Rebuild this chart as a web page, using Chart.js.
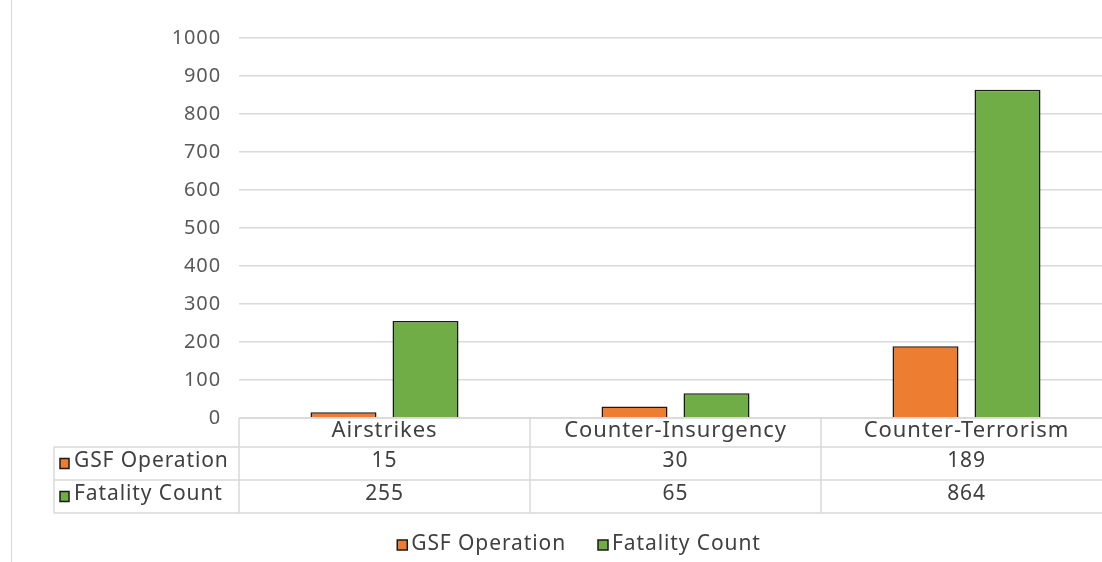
<!DOCTYPE html>
<html>
<head>
<meta charset="utf-8">
<script src="https://cdn.jsdelivr.net/npm/chart.js@4.4.1/dist/chart.umd.min.js"></script>
<style>
  html, body { margin: 0; padding: 0; background: #fff; overflow: hidden; width: 1102px; height: 562px; }
  #wrap { position: relative; width: 1102px; height: 562px; overflow: hidden; }
  #frame { position: absolute; left: 11px; top: 0; width: 0; height: 562px; border-left: 1px solid #d6d6d6; }
  canvas { position: absolute; left: 0; top: 0; }
</style>
</head>
<body>
<div id="wrap">
  <canvas id="c" width="1112" height="562"></canvas>
  <div id="frame"></div>
</div>
<script>
const categories = ["Airstrikes", "Counter-Insurgency", "Counter-Terrorism"];
const seriesNames = ["GSF Operation", "Fatality Count"];
const gsfOperation = [15, 30, 189];
const fatalityCount = [255, 65, 864];
const yTicks = [0, 100, 200, 300, 400, 500, 600, 700, 800, 900, 1000];

const COLORS = ["#ED7D31", "#70AD47"];
const FONT = "'Noto Sans', sans-serif";
const TEXT = "#404040";
const GRID = "#d9d9d9";

const spacingPlugin = {
  id: 'spacing',
  beforeDraw(chart) { chart.ctx.letterSpacing = '0.9px'; }
};

const tablePlugin = {
  id: 'dataTable',
  afterDraw(chart) {
    const ctx = chart.ctx;
    const x = chart.scales.x;
    const area = chart.chartArea;
    const top = area.bottom;
    const rowH = [29, 33, 33];
    const r1 = top + rowH[0];
    const r2 = r1 + rowH[1];
    const r3 = r2 + rowH[2];
    const labelLeft = 54;
    const n = categories.length;
    const colW = (area.right - area.left) / n;
    ctx.save();
    ctx.strokeStyle = GRID;
    ctx.lineWidth = 1.5;
    ctx.beginPath();
    ctx.moveTo(area.left, top); ctx.lineTo(area.right, top);
    ctx.moveTo(labelLeft, r1); ctx.lineTo(area.right, r1);
    ctx.moveTo(labelLeft, r2); ctx.lineTo(area.right, r2);
    ctx.moveTo(labelLeft, r3); ctx.lineTo(area.right, r3);
    ctx.moveTo(labelLeft, r1); ctx.lineTo(labelLeft, r3);
    for (let i = 0; i <= n; i++) {
      const vx = area.left + colW * i;
      ctx.moveTo(vx, top); ctx.lineTo(vx, r3);
    }
    ctx.stroke();

    const rows = [gsfOperation, fatalityCount];
    const rowMid = [(r1 + r2) / 2 - 2, (r2 + r3) / 2 - 2];
    ctx.font = "21px " + FONT;
    ctx.letterSpacing = '0.9px';
    ctx.textBaseline = 'middle';
    rows.forEach((vals, ri) => {
      const cy = rowMid[ri];
      ctx.fillStyle = COLORS[ri];
      ctx.strokeStyle = "#1a1a1a";
      ctx.lineWidth = 1.5;
      ctx.fillRect(60, cy - 3, 9, 10);
      ctx.strokeRect(60, cy - 3, 9, 10);
      ctx.fillStyle = TEXT;
      ctx.textAlign = 'left';
      ctx.fillText(seriesNames[ri], 74, cy);
      ctx.textAlign = 'center';
      vals.forEach((v, ci) => {
        ctx.fillText(String(v), x.getPixelForValue(ci), cy);
      });
    });

    const ly = 544;
    ctx.letterSpacing = '0.9px';
    ctx.textAlign = 'left';
    const widths = seriesNames.map(s => ctx.measureText(s).width);
    const itemGap = 32;
    const boxW = 10, boxGap = 4;
    const total = widths.reduce((a, w) => a + boxW + boxGap + w, 0) + itemGap * (seriesNames.length - 1);
    let lx = 579 - total / 2;
    seriesNames.forEach((s, i) => {
      ctx.fillStyle = COLORS[i];
      ctx.strokeStyle = "#1a1a1a";
      ctx.lineWidth = 1.5;
      ctx.fillRect(lx, ly - 4, boxW, 10);
      ctx.strokeRect(lx, ly - 4, boxW, 10);
      ctx.fillStyle = TEXT;
      ctx.fillText(s, lx + boxW + boxGap, ly);
      lx += boxW + boxGap + widths[i] + itemGap;
    });
    ctx.restore();
  }
};

new Chart(document.getElementById('c'), {
  type: 'bar',
  data: {
    labels: categories,
    datasets: [
      { label: seriesNames[0], data: gsfOperation, backgroundColor: COLORS[0], borderColor: "#1a1a1a", borderWidth: 1.5 },
      { label: seriesNames[1], data: fatalityCount, backgroundColor: COLORS[1], borderColor: "#1a1a1a", borderWidth: 1.5 }
    ]
  },
  options: {
    responsive: false,
    animation: false,
    devicePixelRatio: 1,
    layout: { padding: { top: 38, right: 0, bottom: 49, left: 0 } },
    datasets: { bar: { categoryPercentage: 0.5636, barPercentage: 0.805 } },
    plugins: { legend: { display: false }, tooltip: { enabled: false } },
    scales: {
      x: {
        grid: { display: false, drawTicks: false },
        border: { display: false },
        ticks: { color: TEXT, font: { family: FONT, size: 22 }, padding: 0, maxRotation: 0, autoSkip: false },
        afterFit(scale) { scale.height = 95; }
      },
      y: {
        min: 0, max: 1000,
        afterBuildTicks(scale) { scale.ticks = yTicks.map(v => ({ value: v })); },
        grid: { color: GRID, lineWidth: 1.5, drawTicks: false },
        border: { display: false },
        ticks: { color: "#595959", font: { family: FONT, size: 20 }, padding: 18, callback: v => String(v) },
        afterFit(scale) { scale.width = 239; }
      }
    }
  },
  plugins: [spacingPlugin, tablePlugin]
});
</script>
</body>
</html>
